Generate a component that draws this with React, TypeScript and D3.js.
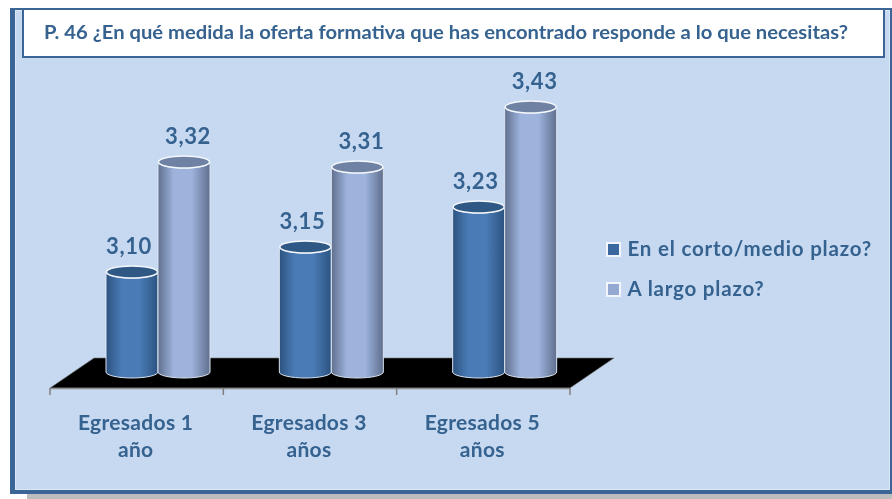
import React from 'react';
import * as d3 from 'd3';

const width = 892;
const height = 499;

const categories = ['Egresados 1 año', 'Egresados 3 años', 'Egresados 5 años'];
const categoryLines = [['Egresados 1', 'año'], ['Egresados 3', 'años'], ['Egresados 5', 'años']];
const seriesNames = ['En el corto/medio plazo?', 'A largo plazo?'];
const shortTerm = [3.10, 3.15, 3.23];
const longTerm = [3.32, 3.31, 3.43];
const seriesValues = [shortTerm, longTerm];
const titleText = 'P. 46 ¿En qué medida la oferta formativa que has encontrado responde a lo que necesitas?';

const fontFamily = 'Lato, "Open Sans", sans-serif';
const textColor = '#36628f';
const frameColor = '#3a6596';
const legendColors = ['#3a689f', '#94a9d2'];

// the plot floor sits in fake perspective, shifted back by this much
const depth = { x: 44, y: 30 };
const axisY = 388;

const xOuter = d3.scaleBand<string>().domain(categories).range([50, 570]);
const xInner = d3.scaleBand<string>().domain(seriesNames).range([56, 160]);
const yScale = d3.scaleLinear().domain([2.9, 3.43]).range([372, 107]);

const formatValue = (v: number) => d3.format('.2f')(v).replace('.', ',');

function cylinderPath(x: number, w: number, top: number, bottom: number, ry: number) {
  const rx = w / 2;
  return `M${x},${top}L${x},${bottom}A${rx},${ry} 0 0 0 ${x + w},${bottom}L${x + w},${top}A${rx},${ry} 0 0 1 ${x},${top}Z`;
}

const Gradient = ({ id, edge, mid }: { id: string; edge: string; mid: string }) => (
  <linearGradient id={id} x1="0" x2="1" y1="0" y2="0">
    <stop offset="0" stopColor={edge} />
    <stop offset="0.3" stopColor={mid} />
    <stop offset="0.65" stopColor={mid} />
    <stop offset="1" stopColor={edge} />
  </linearGradient>
);

export default function App() {
  const [x0, x1] = xOuter.range();
  const floor = d3.line()([
    [x0, axisY],
    [x1, axisY],
    [x1 + depth.x, axisY - depth.y],
    [x0 + depth.x, axisY - depth.y],
  ]) + 'Z';
  const tickXs = [...categories.map(c => xOuter(c) as number), x1];
  const baseY = yScale(2.9);

  return (
    <svg
      width={width}
      height={height}
      style={{ position: 'absolute', left: 0, top: 0, display: 'block' }}
      fontFamily={fontFamily}
    >
      <defs>
        <Gradient id="cyl0" edge="#2c5380" mid="#4a7bb6" />
        <Gradient id="cyl1" edge="#5f6f8e" mid="#9db3dc" />
        <filter id="soft" x="-5%" y="-10%" width="110%" height="120%">
          <feGaussianBlur stdDeviation="0.35" />
        </filter>
      </defs>

      {/* frame and shadow */}
      <rect x={27} y={494} width={865} height={5} fill="#bdbdbd" />
      <rect x={10} y={8} width={882} height={486} fill={frameColor} />
      <rect x={15} y={10} width={875} height={480} fill="#c6d9f1" />
      <rect x={15.5} y={10.5} width={874} height={479} fill="none" stroke="#dce7f5" strokeWidth={1} />

      {/* title box */}
      <rect x={23} y={9} width={861} height={48} fill="#fff" stroke={frameColor} strokeWidth={2} />
      <text x={44} y={39} fontSize={19.5} fontWeight={700} fill={textColor} textLength={804} lengthAdjust="spacingAndGlyphs" filter="url(#soft)">
        {titleText}
      </text>

      {/* floor and axis */}
      <path d={floor} fill="#000" stroke="#777" strokeWidth={0.6} />
      <line x1={x0} x2={x1} y1={axisY + 0.5} y2={axisY + 0.5} stroke="#8c8c8c" strokeWidth={1.5} />
      {tickXs.map(t => (
        <line key={t} x1={t} x2={t} y1={axisY} y2={axisY + 7} stroke="#808080" strokeWidth={1.5} />
      ))}

      {/* cylinders */}
      {categories.map((cat, i) => (
        <g key={cat} transform={`translate(${xOuter(cat)},0)`}>
          {seriesNames.map((name, s) => {
            const v = seriesValues[s][i];
            const x = xInner(name) as number;
            const w = xInner.bandwidth();
            const top = yScale(v);
            return (
              <g key={name}>
                <path d={cylinderPath(x, w, top, baseY, 6)} fill={`url(#cyl${s})`} stroke="#dbe4f0" strokeWidth={1} />
                <ellipse cx={x + w / 2} cy={top} rx={w / 2 - 0.5} ry={6} fill={s === 0 ? '#2f5885' : '#6f82a4'} stroke="#f4f7fb" strokeWidth={1.5} />
                <text
                  x={x + w / 2 + (s === 0 ? -3 : 4)}
                  y={top - 18}
                  textAnchor="middle"
                  fontSize={22}
                  fontWeight={700}
                  letterSpacing={0.6}
                  fill={textColor}
                  filter="url(#soft)"
                >
                  {formatValue(v)}
                </text>
              </g>
            );
          })}
        </g>
      ))}

      {/* category labels */}
      {categories.map((cat, i) => {
        const cx = (xOuter(cat) as number) + xOuter.bandwidth() / 2 - 1;
        return (
          <text key={cat} textAnchor="middle" fontSize={21} fontWeight={700} letterSpacing={0.3} fill={textColor} filter="url(#soft)">
            <tspan x={cx} y={430}>{categoryLines[i][0]}</tspan>
            <tspan x={cx} y={457}>{categoryLines[i][1]}</tspan>
          </text>
        );
      })}

      {/* legend */}
      {seriesNames.map((name, s) => (
        <g key={name} transform={`translate(607,${243 + s * 40})`}>
          <rect width={13} height={13} fill={legendColors[s]} stroke="#f2f6fb" strokeWidth={2} />
          <text x={20.5} y={12.5} fontSize={20.5} fontWeight={700} fill={textColor} letterSpacing={0.8} filter="url(#soft)">
            {name}
          </text>
        </g>
      ))}
    </svg>
  );
}
